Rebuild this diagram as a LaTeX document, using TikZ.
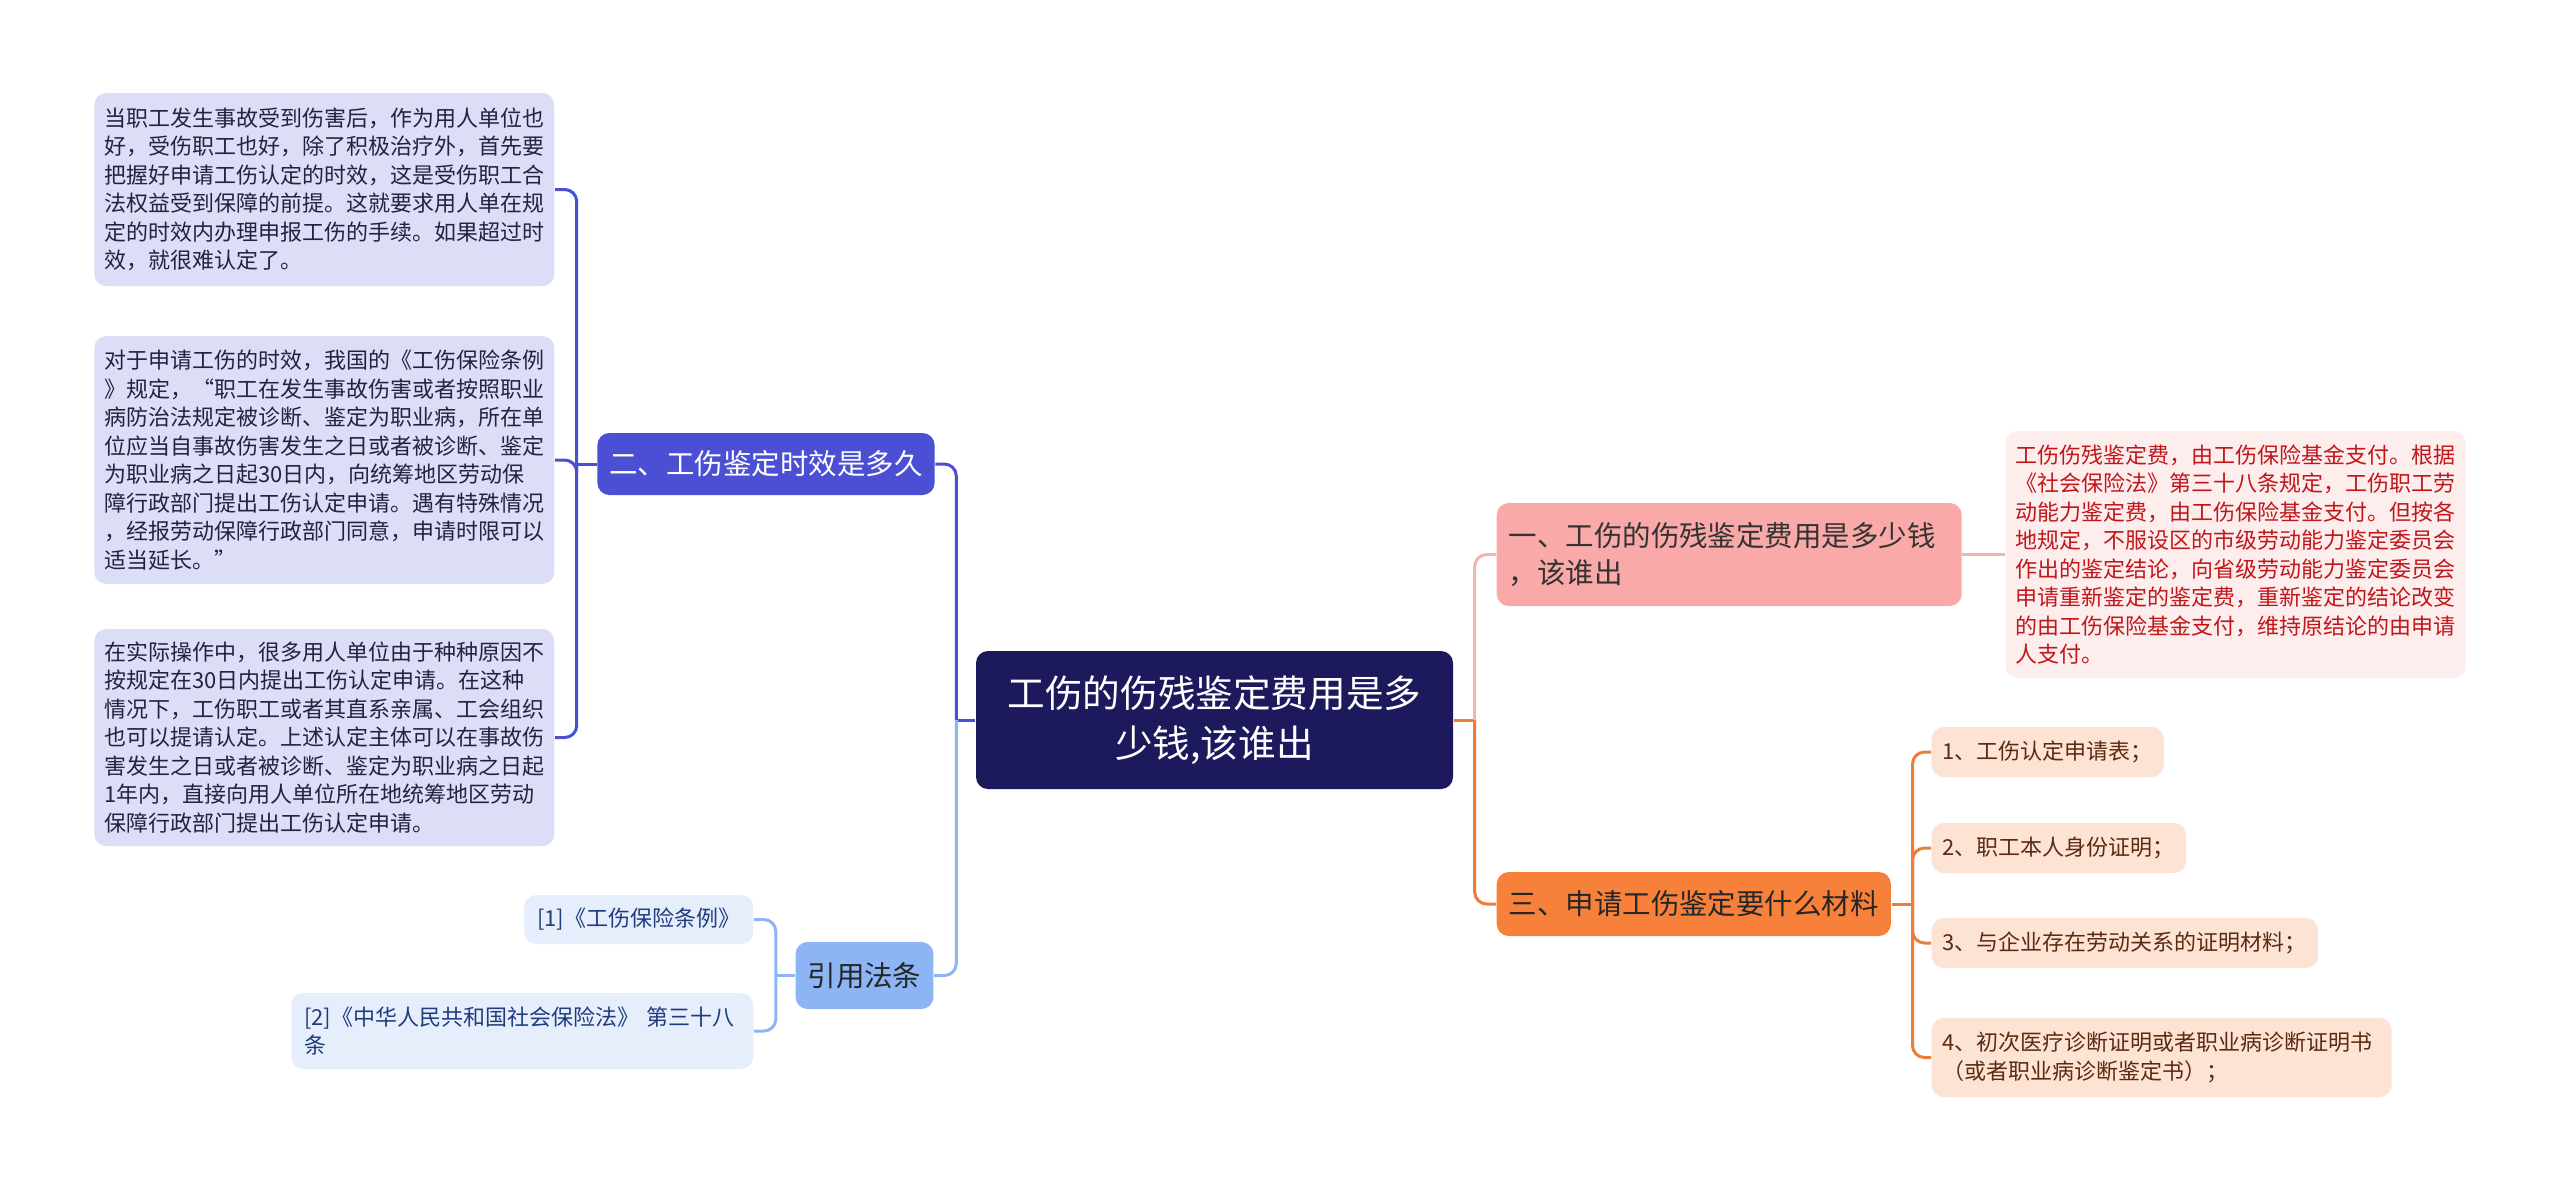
\documentclass[tikz,border=0pt]{standalone}
\usepackage{fontspec}
\setmainfont{Noto Sans CJK SC}
\usepackage{xcolor}
\usepackage{tikz}
\definecolor{fondoRaiz}{HTML}{1C1A5C}
\definecolor{colDos}{HTML}{4A4FD3}
\definecolor{fondoHojaDos}{HTML}{DCDDF6}
\definecolor{textoHojaDos}{HTML}{23233F}
\definecolor{colLey}{HTML}{8DB4F5}
\definecolor{fondoRef}{HTML}{E6EEFC}
\definecolor{textoRef}{HTML}{1F3C7E}
\definecolor{colUno}{HTML}{F9A9A7}
\definecolor{lineaUno}{HTML}{F5B3B0}
\definecolor{fondoRojo}{HTML}{FDEDED}
\definecolor{textoRojo}{HTML}{C0171A}
\definecolor{colTres}{HTML}{F7813A}
\definecolor{lineaTres}{HTML}{EE7D3B}
\definecolor{fondoMat}{HTML}{FDE3D4}
\definecolor{textoMat}{HTML}{5B2A12}

\begin{document}
\begin{tikzpicture}[
        rama/.style={
            line width=0.03cm,
            rounded corners=0.12cm
        },
        tema/.style={
            rounded corners=0.12cm,
            inner xsep=0.12cm,
            inner ysep=0.05cm,
            font=\fontsize{8.1}{10.7}\selectfont
        },
        hoja/.style={
            rounded corners=0.12cm,
            align=left,
            inner xsep=0.1cm,
            inner ysep=0.05cm,
            font=\fontsize{6.26}{8.1}\selectfont
        }
    ]

        % Marco
        \useasboundingbox (0,0) rectangle (25.6,-11.91);

        % Nodo central
        \node[
            fill=fondoRaiz,
            text=white,
            rounded corners=0.12cm,
            align=center,
            minimum width=4.77cm,
            minimum height=1.38cm,
            font=\fontsize{10.7}{14.4}\selectfont
        ] (raiz) at (12.145,-7.20) {
            工伤的伤残鉴定费用是多\\
            少钱,该谁出
        };

        % =====================================================
        % LADO IZQUIERDO
        % =====================================================

        % Tema dos
        \node[
            tema,
            fill=colDos,
            text=white,
            minimum height=0.62cm
        ] (dos) at (7.66,-4.64) {二、工伤鉴定时效是多久};

        % Hojas del tema dos
        \node[
            hoja,
            anchor=east,
            fill=fondoHojaDos,
            text=textoHojaDos,
            text width=4.4cm,
            minimum height=1.93cm
        ] (h1) at (5.55,-1.895) {
            当职工发生事故受到伤害后，作为用人单位也\\
            好，受伤职工也好，除了积极治疗外，首先要\\
            把握好申请工伤认定的时效，这是受伤职工合\\
            法权益受到保障的前提。这就要求用人单在规\\
            定的时效内办理申报工伤的手续。如果超过时\\
            效，就很难认定了。
        };

        \node[
            hoja,
            anchor=east,
            fill=fondoHojaDos,
            text=textoHojaDos,
            text width=4.4cm,
            minimum height=2.48cm
        ] (h2) at (5.55,-4.60) {
            对于申请工伤的时效，我国的《工伤保险条例\\
            》规定，“职工在发生事故伤害或者按照职业\\
            病防治法规定被诊断、鉴定为职业病，所在单\\
            位应当自事故伤害发生之日或者被诊断、鉴定\\
            为职业病之日起30日内，向统筹地区劳动保\\
            障行政部门提出工伤认定申请。遇有特殊情况\\
            ，经报劳动保障行政部门同意，申请时限可以\\
            适当延长。”
        };

        \node[
            hoja,
            anchor=east,
            fill=fondoHojaDos,
            text=textoHojaDos,
            text width=4.4cm,
            minimum height=2.17cm
        ] (h3) at (5.55,-7.375) {
            在实际操作中，很多用人单位由于种种原因不\\
            按规定在30日内提出工伤认定申请。在这种\\
            情况下，工伤职工或者其直系亲属、工会组织\\
            也可以提请认定。上述认定主体可以在事故伤\\
            害发生之日或者被诊断、鉴定为职业病之日起\\
            1年内，直接向用人单位所在地统筹地区劳动\\
            保障行政部门提出工伤认定申请。
        };

        % Referencias legales
        \node[
            tema,
            fill=colLey,
            text=black!85,
            minimum height=0.67cm
        ] (ley) at (8.645,-9.755) {引用法条};

        \node[
            hoja,
            anchor=east,
            fill=fondoRef,
            text=textoRef,
            inner xsep=0.13cm,
            minimum height=0.49cm
        ] (r1) at (7.54,-9.195) {[1]《工伤保险条例》};

        \node[
            hoja,
            anchor=east,
            fill=fondoRef,
            text=textoRef,
            inner xsep=0.13cm,
            text width=4.36cm,
            minimum height=0.76cm
        ] (r2) at (7.54,-10.31) {
            [2]《中华人民共和国社会保险法》 第三十八\\
            条
        };

        % =====================================================
        % LADO DERECHO
        % =====================================================

        % Tema uno
        \node[
            tema,
            anchor=west,
            fill=colUno,
            text=black!80,
            align=left,
            text width=4.41cm,
            minimum height=1.03cm
        ] (uno) at (14.96,-5.545) {
            一、工伤的伤残鉴定费用是多少钱\\
            ，该谁出
        };

        \node[
            hoja,
            anchor=west,
            fill=fondoRojo,
            text=textoRojo,
            text width=4.4cm,
            minimum height=2.47cm
        ] (rojo) at (20.05,-5.545) {
            工伤伤残鉴定费，由工伤保险基金支付。根据\\
            《社会保险法》第三十八条规定，工伤职工劳\\
            动能力鉴定费，由工伤保险基金支付。但按各\\
            地规定，不服设区的市级劳动能力鉴定委员会\\
            作出的鉴定结论，向省级劳动能力鉴定委员会\\
            申请重新鉴定的鉴定费，重新鉴定的结论改变\\
            的由工伤保险基金支付，维持原结论的由申请\\
            人支付。
        };

        % Tema tres
        \node[
            tema,
            anchor=west,
            fill=colTres,
            text=black!85,
            minimum height=0.64cm
        ] (tres) at (14.96,-9.04) {三、申请工伤鉴定要什么材料};

        % Materiales
        \node[
            hoja,
            anchor=west,
            fill=fondoMat,
            text=textoMat,
            inner xsep=0.11cm,
            minimum height=0.5cm
        ] (m1) at (19.31,-7.52) {1、工伤认定申请表；};

        \node[
            hoja,
            anchor=west,
            fill=fondoMat,
            text=textoMat,
            inner xsep=0.11cm,
            minimum height=0.5cm
        ] (m2) at (19.31,-8.48) {2、职工本人身份证明；};

        \node[
            hoja,
            anchor=west,
            fill=fondoMat,
            text=textoMat,
            inner xsep=0.11cm,
            minimum height=0.5cm
        ] (m3) at (19.31,-9.43) {3、与企业存在劳动关系的证明材料；};

        \node[
            hoja,
            anchor=west,
            fill=fondoMat,
            text=textoMat,
            inner xsep=0.11cm,
            text width=4.38cm,
            minimum height=0.79cm
        ] (m4) at (19.31,-10.575) {
            4、初次医疗诊断证明或者职业病诊断证明书\\
            （或者职业病诊断鉴定书）；
        };

        % =====================================================
        % CONEXIONES
        % =====================================================

        % Raiz hacia la izquierda
        \draw[rama, colDos] (raiz.west) -- ++(-0.19,0) coordinate (tIzq);
        \draw[rama, colDos] (tIzq) |- (dos.east);
        \draw[rama, colLey] (tIzq) |- (ley.east);

        % Dos hacia sus hojas
        \draw[rama, colDos] (dos.west) -- ++(-0.2,0) coordinate (tDos);
        \draw[rama, colDos] (tDos) |- (h1.east);
        \draw[rama, colDos] (tDos) |- (h2.east);
        \draw[rama, colDos] (tDos) |- (h3.east);

        % Ley hacia referencias
        \draw[rama, colLey] (ley.west) -- ++(-0.19,0) coordinate (tLey);
        \draw[rama, colLey] (tLey) |- (r1.east);
        \draw[rama, colLey] (tLey) |- (r2.east);

        % Raiz hacia la derecha
        \draw[rama, lineaTres] (raiz.east) -- ++(0.21,0) coordinate (tDer);
        \draw[rama, lineaUno] (tDer) |- (uno.west);
        \draw[rama, lineaTres] (tDer) |- (tres.west);

        % Uno hacia su hoja
        \draw[rama, lineaUno] (uno.east) -- (rojo.west);

        % Tres hacia materiales
        \draw[rama, lineaTres] (tres.east) -- ++(0.21,0) coordinate (tTres);
        \draw[rama, lineaTres] (tTres) |- (m1.west);
        \draw[rama, lineaTres] (tTres) |- (m2.west);
        \draw[rama, lineaTres] (tTres) |- (m3.west);
        \draw[rama, lineaTres] (tTres) |- (m4.west);

    \end{tikzpicture}
\end{document}
